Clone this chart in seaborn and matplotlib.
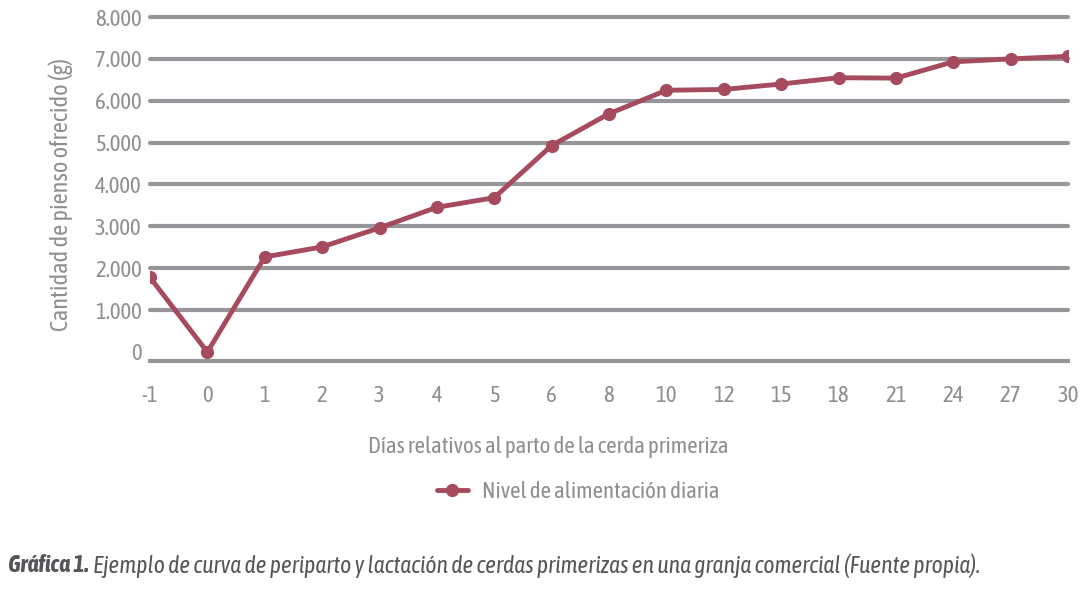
import matplotlib
matplotlib.use("Agg")
import matplotlib.pyplot as plt
from matplotlib import font_manager as fm
import seaborn as sns
import pandas as pd

dias = ["-1", "0", "1", "2", "3", "4", "5", "6", "8", "10", "12", "15", "18", "21", "24", "27", "30"]
pienso = [1780, 0, 2270, 2510, 2965, 3455, 3685, 4930, 5690, 6250, 6270, 6400, 6550, 6540, 6930, 7000, 7060]
y_ticks = [0, 1000, 2000, 3000, 4000, 5000, 6000, 7000, 8000]
y_tick_labels = ["0", "1.000", "2.000", "3.000", "4.000", "5.000", "6.000", "7.000", "8.000"]
serie = "Nivel de alimentación diaria"

sns.set_theme(style="white")

names = {f.name for f in fm.fontManager.ttflist}
pref = [n for n in ["Asap Condensed", "Archivo Narrow", "Barlow Semi Condensed"] if n in names]
FONT = pref[:1] + ["DejaVu Sans"]
plt.rcParams["font.family"] = FONT

LINE = "#A64A5E"
GRID = "#97979B"
TEXT = "#8E8E93"
CAP = "#55555A"

df = pd.DataFrame({"dia": dias, "pienso": pienso})

fig = plt.figure(figsize=(10.86, 5.92), dpi=100)
ax = fig.add_axes([150 / 1086, 1 - 361 / 592, (1068 - 150) / 1086, (361 - 17) / 592])

sns.lineplot(data=df, x="dia", y="pienso", ax=ax, color=LINE, linewidth=3.5,
             marker="o", markersize=9.5, markeredgewidth=0, label=serie, sort=False)

ax.set_xlim(0, len(dias) - 1)
ax.set_ylim(-215, 8000)
ax.set_yticks(y_ticks)
ax.set_yticklabels(y_tick_labels)
ax.set_xticks(range(len(dias)))
ax.set_xticklabels(dias)

for v in y_ticks[1:]:
    ax.axhline(v, color=GRID, linewidth=3.0, zorder=0, clip_on=False)

for s in ["left", "right", "top"]:
    ax.spines[s].set_visible(False)
ax.spines["bottom"].set_color(GRID)
ax.spines["bottom"].set_linewidth(3.0)

FS = 16.5
ax.tick_params(axis="both", length=0, labelsize=FS, labelcolor=TEXT)
ax.tick_params(axis="y", pad=6)
ax.tick_params(axis="x", pad=17)

ax.set_xlabel("Días relativos al parto de la cerda primeriza", fontsize=FS, color=TEXT)
ax.xaxis.set_label_coords(0.434, -0.218)
ax.set_ylabel("Cantidad de pienso ofrecido (g)", fontsize=17.5, color=TEXT)
ax.yaxis.set_label_coords(-0.084, 0.483)

leg = ax.legend(loc="center", bbox_to_anchor=(578 / 1086, 1 - 492 / 592),
                bbox_transform=fig.transFigure, frameon=False, fontsize=FS,
                handlelength=1.35, handletextpad=0.6)
for t in leg.get_texts():
    t.set_color(TEXT)

t1 = fig.text(8 / 1086, 1 - 566 / 592, "Gráfica 1.", fontsize=17, fontweight="bold",
              fontstyle="italic", color=CAP, va="center", ha="left")
ax.annotate("Ejemplo de curva de periparto y lactación de cerdas primerizas en una granja comercial (Fuente propia).",
            xy=(1, 0.5), xycoords=t1, xytext=(3, 0), textcoords="offset points",
            fontsize=17, fontstyle="italic", color=CAP, va="center", ha="left",
            annotation_clip=False)

fig.savefig("out.png", dpi=100)
